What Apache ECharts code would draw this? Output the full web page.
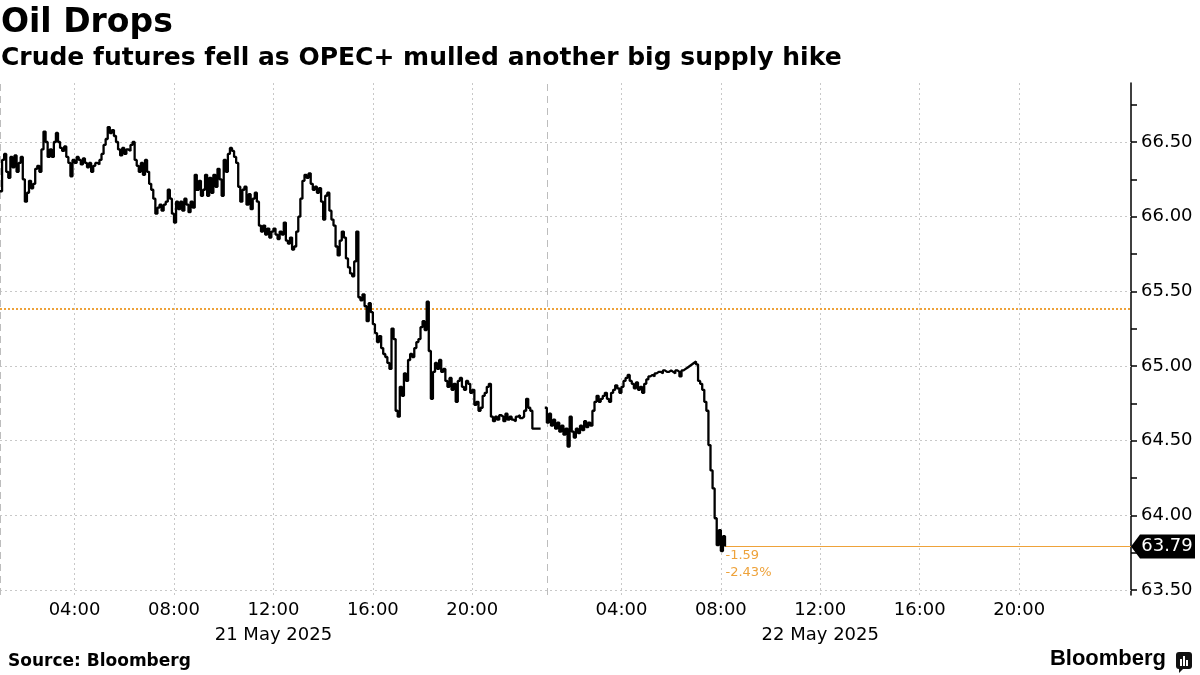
<!DOCTYPE html>
<html><head><meta charset="utf-8">
<script src="https://cdn.jsdelivr.net/npm/echarts@6/dist/echarts.min.js"></script>
<style>html,body{margin:0;padding:0;background:#fff}#c{width:1200px;height:675px}</style>
</head><body><div id="c"></div><script>
// WTI crude futures, 5-minute bars; x = trading hours since 01:00, 21 May 2025
const stepHours = 1 / 12;
const prices = [
66.17,66.38,66.42,66.30,66.26,66.40,66.33,66.41,66.30,66.36,
66.40,66.25,66.10,66.16,66.24,66.19,66.22,66.32,66.34,66.30,
66.45,66.57,66.50,66.40,66.45,66.40,66.50,66.56,66.50,66.46,
66.44,66.47,66.40,66.36,66.27,66.38,66.36,66.40,66.38,66.35,
66.39,66.36,66.33,66.36,66.30,66.34,66.36,66.35,66.38,66.42,
66.48,66.52,66.60,66.56,66.58,66.54,66.50,66.45,66.41,66.46,
66.42,66.45,66.44,66.48,66.50,66.38,66.34,66.30,66.36,66.28,
66.38,66.30,66.22,66.18,66.12,66.02,66.06,66.08,66.04,66.08,
66.10,66.18,66.12,66.02,65.96,66.10,66.05,66.10,66.04,66.12,
66.08,66.03,66.10,66.06,66.28,66.18,66.24,66.14,66.18,66.28,
66.14,66.26,66.16,66.28,66.20,66.32,66.25,66.14,66.38,66.30,
66.42,66.46,66.44,66.40,66.36,66.20,66.10,66.18,66.20,66.08,
66.15,66.05,66.12,66.16,66.10,65.94,65.90,65.94,65.88,65.92,
65.86,65.90,65.92,65.88,65.85,65.90,65.88,65.96,65.84,65.82,
65.86,65.78,65.80,65.90,66.00,66.12,66.24,66.28,66.26,66.29,
66.22,66.18,66.20,66.16,66.19,66.10,65.98,66.14,66.16,66.04,
65.98,65.94,65.80,65.74,65.84,65.90,65.86,65.72,65.66,65.62,
65.60,65.70,65.90,65.46,65.44,65.48,65.40,65.30,65.42,65.36,
65.28,65.22,65.16,65.20,65.12,65.08,65.06,65.02,64.98,65.25,
65.18,64.70,64.66,64.86,64.80,64.95,64.90,65.04,65.08,65.06,
65.12,65.16,65.18,65.26,65.30,65.24,65.43,65.10,64.78,64.96,
65.02,64.98,65.04,64.96,64.98,64.90,64.86,64.92,64.84,64.88,
64.76,64.90,64.92,64.86,64.84,64.90,64.88,64.82,64.84,64.74,
64.76,64.70,64.72,64.80,64.82,64.86,64.88,64.66,64.63,64.66,
64.64,64.67,64.66,64.63,64.68,64.64,64.66,64.64,64.63,64.66,
64.67,64.65,64.66,64.70,64.78,64.72,64.70,64.58,64.58,64.58,
64.58,null,null,64.72,64.62,64.68,64.60,64.64,64.58,64.62,
64.56,64.60,64.54,64.58,64.46,64.66,64.56,64.52,64.58,64.55,
64.60,64.57,64.63,64.59,64.62,64.60,64.70,64.76,64.80,64.76,
64.78,64.80,64.82,64.78,64.76,64.82,64.84,64.87,64.85,64.82,
64.86,64.90,64.92,64.94,64.90,64.88,64.85,64.89,64.84,64.86,
64.82,64.88,64.91,64.93,64.94,64.93,64.95,64.96,64.96,64.95,
64.97,64.96,64.96,64.97,64.96,64.95,64.97,64.96,64.93,64.97,
64.98,64.99,65.00,65.01,65.02,65.03,65.01,64.90,64.88,64.84,
64.76,64.70,64.47,64.30,64.18,63.98,63.80,63.90,63.76,63.86,
63.79
];
const prevClose = 65.38;
const tickHours = [3, 7, 11, 15, 19, 25, 29, 33, 37, 41];
const tickLabels = ['04:00','08:00','12:00','16:00','20:00','04:00','08:00','12:00','16:00','20:00'];
const dayLabelHours = [11, 33];
const dayLabels = ['21 May 2025', '22 May 2025'];
const dayBreakHours = [0, 22];
const priceLabels = [63.5, 64.0, 64.5, 65.0, 65.5, 66.0, 66.5];
const priceTicks = [63.5, 63.75, 64.0, 64.25, 64.5, 64.75, 65.0, 65.25, 65.5, 65.75, 66.0, 66.25, 66.5, 66.75];

const X_MAX = 45.5, Y_MIN = 63.466, Y_MAX = 66.895;
const ORANGE = '#eea23a';
const FONT = 'DejaVu Sans';

const seriesData = prices.map((p, i) => [i * stepHours, p]);
const lastIdx = prices.length - 1;
const lastX = lastIdx * stepHours;
const last = prices[lastIdx];
const chg = last - prevClose;
const pct = chg / prevClose * 100;

const chart = echarts.init(document.getElementById('c'), null, {renderer: 'canvas'});
chart.setOption({
  animation: false,
  backgroundColor: '#fff',
  grid: {left: 0, right: 69, top: 83, bottom: 80, containLabel: false},
  xAxis: {
    type: 'value', min: 0, max: X_MAX,
    axisLine: {show: false}, axisTick: {show: false}, splitLine: {show: false},
    axisLabel: {
      customValues: tickHours, margin: 3, color: '#000', fontSize: 18, fontFamily: FONT,
      lineHeight: 25, align: 'center',
      formatter: v => {
        const i = tickHours.indexOf(v);
        const d = dayLabelHours.indexOf(v);
        return tickLabels[i] + (d >= 0 ? '\n' + dayLabels[d] : '');
      }
    }
  },
  yAxis: {
    type: 'value', position: 'right', min: Y_MIN, max: Y_MAX,
    axisLine: {show: true, onZero: false, lineStyle: {color: '#000', width: 1.5}},
    axisTick: {show: true, customValues: priceTicks, length: 6, lineStyle: {color: '#000', width: 1.5}},
    axisLabel: {customValues: priceLabels, margin: 10, color: '#000', fontSize: 18, fontFamily: FONT,
      formatter: v => v.toFixed(2)},
    splitLine: {show: false}
  },
  graphic: [
    {type: 'text', left: 1, top: 7, style: {text: 'Oil Drops', font: 'bold 33px "DejaVu Sans"', fill: '#000'}},
    {type: 'text', left: 1, top: 46, style: {text: 'Crude futures fell as OPEC+ mulled another big supply hike', font: 'bold 25px "DejaVu Sans"', fill: '#000'}},
    {type: 'text', left: 8, top: 653, style: {text: 'Source: Bloomberg', font: 'bold 17px "DejaVu Sans"', fill: '#000'}},
    {type: 'text', right: 34, top: 648, style: {text: 'Bloomberg', font: 'bold 22px "Liberation Sans"', fill: '#000'}},
    {type: 'group', right: 8, top: 652, children: [
      {type: 'rect', shape: {x: 0, y: 0, width: 16, height: 17, r: 3}, style: {fill: '#111'}},
      {type: 'polygon', shape: {points: [[3, 16], [8, 16], [3, 21]]}, style: {fill: '#111'}},
      {type: 'rect', shape: {x: 4, y: 7, width: 2, height: 7}, style: {fill: '#fff'}},
      {type: 'rect', shape: {x: 7, y: 4, width: 2, height: 10}, style: {fill: '#fff'}},
      {type: 'rect', shape: {x: 10, y: 8, width: 2, height: 6}, style: {fill: '#fff'}}
    ]}
  ],
  series: [
    {
      name: 'grid', type: 'line', data: [], silent: true,
      markLine: {
        silent: true, symbol: 'none', z: 1, label: {show: false}, animation: false,
        data: [
          ...priceLabels.map(v => ({yAxis: v, lineStyle: {color: '#c8c8c8', type: [2, 3], width: 1}})),
          ...tickHours.map(v => ({xAxis: v, lineStyle: {color: '#c8c8c8', type: [2, 3], width: 1}})),
          ...dayBreakHours.map(v => ({xAxis: v, lineStyle: {color: '#bdbdbd', type: [7, 5], width: 1}}))
        ]
      }
    },
    {
      name: 'ref', type: 'line', data: [], silent: true,
      markLine: {
        silent: true, symbol: 'none', z: 3, label: {show: false}, animation: false,
        data: [
          {yAxis: prevClose, lineStyle: {color: ORANGE, type: [2, 2], width: 2}},
          [{coord: [lastX, last], lineStyle: {color: ORANGE, type: 'solid', width: 1}}, {coord: [X_MAX, last]}]
        ]
      },
      markPoint: {
        silent: true, animation: false, z: 12,
        data: [
          {coord: [lastX, last], symbol: 'circle', symbolSize: 1, itemStyle: {color: 'rgba(0,0,0,0)'},
            label: {show: true, position: [1, 1], align: 'left', verticalAlign: 'top', lineHeight: 17,
              fontSize: 13, fontFamily: FONT, color: ORANGE,
              formatter: chg.toFixed(2) + '\n' + pct.toFixed(2) + '%'}},
          {coord: [X_MAX, last], symbol: 'path://M0,12 L9,0 L64,0 L64,24 L9,24 Z', symbolSize: [64, 24],
            symbolKeepAspect: false, symbolOffset: [32, 0], itemStyle: {color: '#000'},
            label: {show: true, position: 'inside', offset: [4, 0], color: '#fff', fontSize: 18, fontFamily: FONT,
              formatter: last.toFixed(2)}}
        ]
      }
    },
    {
      name: 'WTI', type: 'line', data: seriesData, step: 'end', showSymbol: false, z: 10,
      connectNulls: false, clip: false,
      lineStyle: {color: '#000', width: 2.3}
    }
  ]
});
</script></body></html>
